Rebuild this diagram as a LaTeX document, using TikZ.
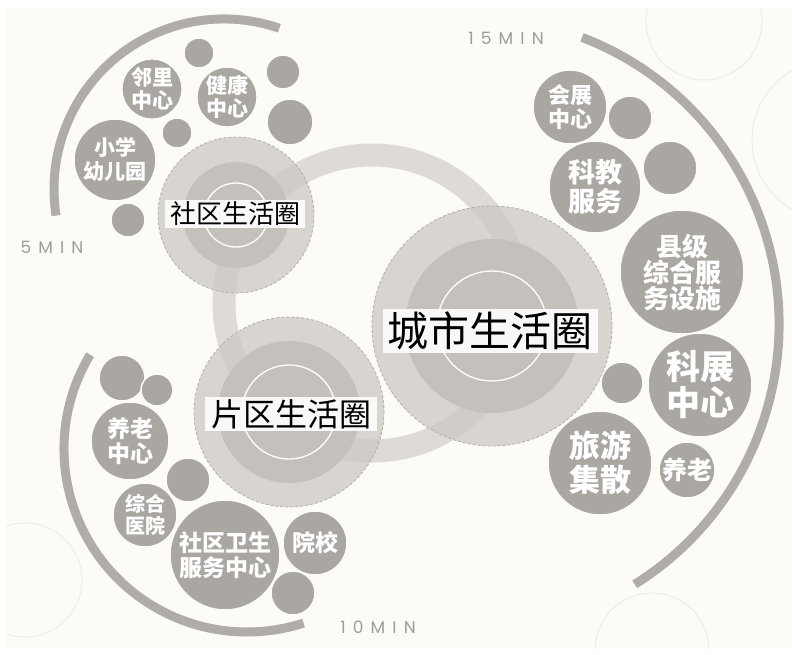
\documentclass[tikz,border=0pt]{standalone}
\usepackage{fontspec}
\usepackage{tikz}
\newfontfamily\cjk{Noto Sans CJK SC}
\newfontfamily\minfont[LetterSpace=42]{Poppins}

\definecolor{bgpaper}{RGB}{252,251,246}
\definecolor{bubgray}{RGB}{170,167,163}
\definecolor{arcgray}{RGB}{176,173,169}
\definecolor{ringgray}{RGB}{222,219,214}
\definecolor{outergray}{RGB}{204,201,197}
\definecolor{midgray}{RGB}{196,193,189}
\definecolor{dashgray}{RGB}{178,175,171}
\definecolor{faintgray}{RGB}{238,236,231}
\definecolor{mingray}{RGB}{160,157,153}

\tikzset{
  bub/.style={circle, fill=bubgray, draw=bgpaper, line width=1.5pt, inner sep=0pt, text=white, align=center},
  fs/.style 2 args={font=\cjk\bfseries\fontsize{#1}{#2}\selectfont},
  lab/.style={fill=white, fill opacity=0.9, text opacity=1, text=black, inner xsep=5pt, inner ysep=2pt},
  band/.style={draw=arcgray, line width=9pt},
  mins/.style={text=mingray, font=\minfont\fontsize{17}{17}\selectfont},
}

\newcommand\zone[4]{%
  \fill[outergray, fill opacity=0.75] #1 circle[radius=#2];
  \draw[dashgray, dash pattern=on 3pt off 2pt, line width=0.8pt] #1 circle[radius=#2];
  \fill[midgray] #1 circle[radius=#3];
  \draw[white, line width=1.3pt] #1 circle[radius=#4];}

\begin{document}
\begin{tikzpicture}[x=1pt, y=-1pt]
	\useasboundingbox (0,0) rectangle (792,654);
	\fill[white] (0,0) rectangle (792,654);
	\fill[bgpaper] (6,8) rectangle (792,648);
	
	\begin{scope}
		\clip (6,8) rectangle (792,648);
		\foreach \x/\y/\r in {704/22/58, 832/140/80, 25/580/57, 652/650/57}
			\draw[faintgray, line width=1pt] (\x,\y) circle[radius=\r];
	\end{scope}
	
	% link ring and the three zones
	\draw[ringgray, line width=23pt] (372,303) circle[radius=148];
	\zone{(236,215)}{78}{53}{32}
	\zone{(289,412)}{95}{71}{47}
	\zone{(492,326)}{120}{87}{55}
	
	\node[lab, font=\cjk\fontsize{26}{26}\selectfont](sq) at (235,214){社区生活圈};
	\node[lab, font=\cjk\fontsize{32}{32}\selectfont, inner xsep=6pt](pq) at (291,414){片区生活圈};
	\node[lab, font=\cjk\fontsize{41}{41}\selectfont, inner ysep=3pt](cs) at (490,331){城市生活圈};
	
	% 5 min
	\node[bub, fs={21}{23}, minimum size=60pt](lin) at (152,89){邻里\\中心};
	\node[bub, fs={21}{23}, minimum size=60pt](jk) at (227,97){健康\\中心};
	\node[bub, fs={21}{24}, minimum size=82pt](xx) at (115,160){小学\\幼儿园};
	
	% 15 min
	\node[bub, fs={22}{24}, minimum size=74pt](hz) at (570,107){会展\\中心};
	\node[bub, fs={27}{29}, minimum size=92pt](kj) at (595,187){科教\\服务};
	\node[bub, fs={26}{26}, minimum size=124pt](xj) at (682,272){县级\\综合服\\务设施};
	\node[bub, fs={34}{36}, minimum size=104pt](kz) at (700,385){科展\\中心};
	\node[bub, fs={31}{34}, minimum size=104pt](ly) at (600,463){旅游\\集散};
	\node[bub, fs={25}{25}, minimum size=56pt](yl) at (687,470){养老};
	
	% 10 min
	\node[bub, fs={23}{25}, minimum size=78pt](ylzx) at (130,441){养老\\中心};
	\node[bub, fs={20}{22}, minimum size=64pt](zhyy) at (145,515){综合\\医院};
	\node[bub, fs={23}{25}, minimum size=110pt](sqws) at (225,555){社区卫生\\服务中心};
	\node[bub, fs={23}{25}, minimum size=64pt](yx) at (315,543){院校};
	
	\foreach \x/\y/\r [count=\i] in {199/53/15, 283/72/17, 290/122/23, 177/133/15, 128/220/17,
		630/118/22, 670/168/27, 622/383/21,
		122/378/23, 157/390/16, 188/480/22, 293/593/22}
		\node[bub, minimum size=\r*2pt](dot\i) at (\x,\y){};
	
	\draw[band] ([shift={(224,189)}]-71:170) arc[start angle=-71, end angle=-189, radius=170];
	\draw[band] ([shift={(247,449)}]211:183) arc[start angle=211, end angle=72, radius=183];
	\draw[band] ([shift={(472,324)}]-69:307) arc[start angle=-69, end angle=58, radius=307];
	
	\node[mins](m5) at (52,247){5MIN};
	\node[mins](m15) at (506,38){15MIN};
	\node[mins](m10) at (378,627){10MIN};
\end{tikzpicture}
\end{document}
